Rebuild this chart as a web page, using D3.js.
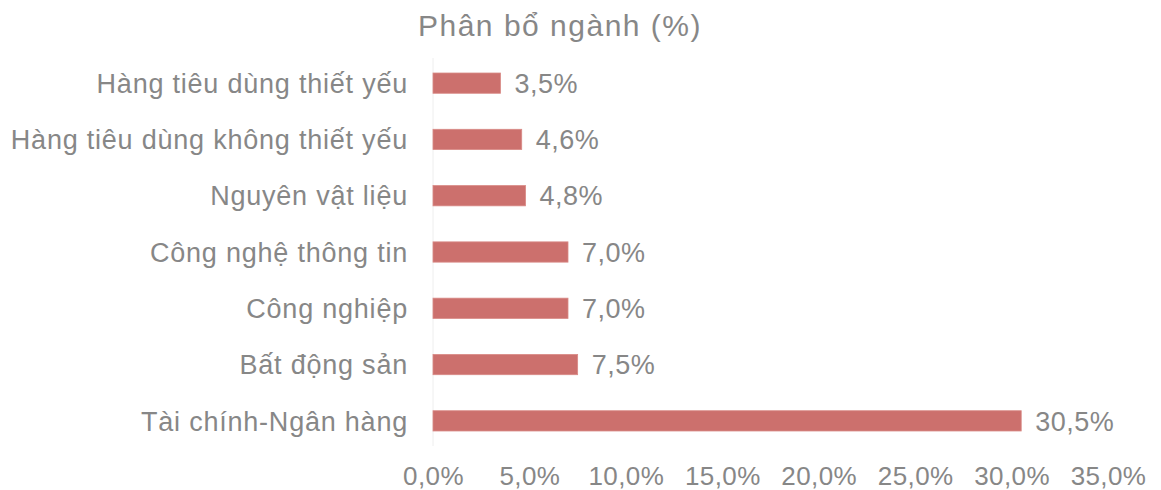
<!DOCTYPE html>
<html>
<head>
<meta charset="utf-8">
<script src="https://cdn.jsdelivr.net/npm/d3@7"></script>
<style>
  body { margin: 0; background: #fff; }
  text { font-family: "Liberation Sans", Arial, sans-serif; fill: #878787; }
</style>
</head>
<body>
<svg width="1161" height="490"></svg>
<script>
// data (top to bottom)
const sectors = [
  "Hàng tiêu dùng thiết yếu",
  "Hàng tiêu dùng không thiết yếu",
  "Nguyên vật liệu",
  "Công nghệ thông tin",
  "Công nghiệp",
  "Bất động sản",
  "Tài chính-Ngân hàng"
];
const weights = [3.5, 4.6, 4.8, 7.0, 7.0, 7.5, 30.5];
const xTicks = [0, 5, 10, 15, 20, 25, 30, 35];
const chartTitle = "Phân bổ ngành (%)";

const svg = d3.select("svg");

const x = d3.scaleLinear().domain([0, 35]).range([433, 1108]);
const y = d3.scaleBand()
  .domain(sectors)
  .range([55, 449])
  .paddingInner(0.64)
  .paddingOuter(0.32);

const fmt = v => d3.format(".1f")(v).replace(".", ",") + "%";

// title
svg.append("text")
  .attr("x", 560)
  .attr("y", 36)
  .attr("text-anchor", "middle")
  .attr("font-size", 30)
  .attr("letter-spacing", 1.5)
  .text(chartTitle);

// faint vertical axis line
svg.append("line")
  .attr("x1", x(0)).attr("x2", x(0))
  .attr("y1", 58).attr("y2", 446)
  .attr("stroke", "#eeeeee")
  .attr("stroke-width", 1);

// bars
svg.append("g")
  .selectAll("rect")
  .data(weights)
  .join("rect")
  .attr("x", x(0))
  .attr("y", (d, i) => y(sectors[i]))
  .attr("width", d => x(d) - x(0))
  .attr("height", y.bandwidth())
  .attr("fill", "#cc706d")
  .attr("stroke", "#d98a86")
  .attr("stroke-width", 0.8);

// value labels
svg.append("g")
  .selectAll("text")
  .data(weights)
  .join("text")
  .attr("x", d => x(d) + 14)
  .attr("y", (d, i) => y(sectors[i]) + y.bandwidth() / 2)
  .attr("dy", "0.36em")
  .attr("font-size", 27)
  .attr("letter-spacing", 0.5)
  .text(d => fmt(d));

// category labels
const yAxis = svg.append("g")
  .attr("transform", `translate(${x(0)},0)`)
  .call(d3.axisLeft(y).tickSize(0).tickPadding(25));
yAxis.select(".domain").remove();
yAxis.selectAll("text")
  .attr("font-size", 27)
  .attr("letter-spacing", 0.78)
  .attr("dy", "0.36em")
  .style("fill", "#878787")
  .style("font-family", "Liberation Sans, Arial, sans-serif");

// x axis labels
const xAxis = svg.append("g")
  .attr("transform", "translate(0,462)")
  .call(d3.axisBottom(x).tickValues(xTicks).tickSize(0).tickPadding(0).tickFormat(fmt));
xAxis.select(".domain").remove();
xAxis.selectAll("text")
  .attr("font-size", 26)
  .attr("letter-spacing", 0.4)
  .attr("dy", "0.9em")
  .style("fill", "#878787")
  .style("font-family", "Liberation Sans, Arial, sans-serif");
</script>
</body>
</html>
